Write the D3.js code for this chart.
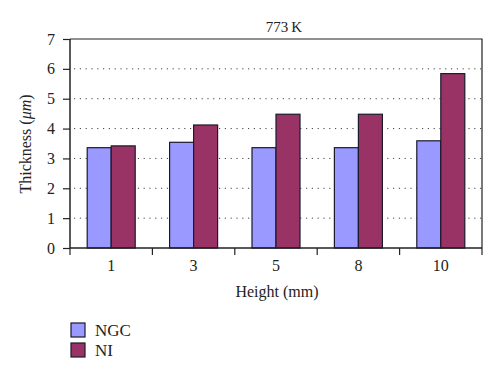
<!DOCTYPE html>
<html><head><meta charset="utf-8">
<script src="https://cdn.jsdelivr.net/npm/d3@7"></script>
<style>body{margin:0;background:#fff}svg{display:block}text{font-family:"Liberation Serif","Times New Roman",serif;fill:#222}</style>
</head><body><svg id="c" width="500" height="378"></svg>
<script>
const categories = ["1","3","5","8","10"];
const seriesNames = ["NGC","NI"];
const ngc = [3.36, 3.54, 3.36, 3.36, 3.59];
const ni = [3.42, 4.12, 4.48, 4.48, 5.84];
const yTicks = [0,1,2,3,4,5,6,7];
const colors = ["#9999ff","#993366"];
const title = "773\u2009K";

const svg = d3.select("#c");
const L=70,R=482,T=39,B=248;
const x = d3.scaleBand().domain(categories).range([L,R]);
const y = d3.scaleLinear().domain([0,7]).range([B,T]);
const barW = 24;
const sub = d3.scaleBand().domain(seriesNames).range([0,barW*2]);

// gridlines
svg.append("g").selectAll("line").data(yTicks.filter(d=>d>0&&d<7)).join("line")
  .attr("x1",L+4).attr("x2",R).attr("y1",d=>y(d)).attr("y2",d=>y(d))
  .attr("stroke","#444").attr("stroke-width",1).attr("stroke-dasharray","1.2,4.6");

// frame top/right
svg.append("path").attr("d",`M${L},${T}H${R}V${B}`).attr("fill","none").attr("stroke","#222").attr("stroke-width",1.2);

// bars
const data = categories.map((c,i)=>({c, vals:[ngc[i],ni[i]]}));
const g = svg.append("g").selectAll("g").data(data).join("g")
  .attr("transform",d=>`translate(${x(d.c)+x.bandwidth()/2-barW},0)`);
g.selectAll("rect").data(d=>d.vals.map((v,j)=>({v,s:seriesNames[j],j}))).join("rect")
  .attr("x",d=>sub(d.s)).attr("width",barW)
  .attr("y",d=>y(d.v)).attr("height",d=>B-y(d.v))
  .attr("fill",d=>colors[d.j]).attr("stroke","#1a1a2a").attr("stroke-width",1.2);

// y axis
const ya = svg.append("g").attr("transform",`translate(${L},0)`)
  .call(d3.axisLeft(y).tickValues(yTicks).tickFormat(d3.format("d")).tickSize(7).tickPadding(8));
ya.select(".domain").attr("d",`M0,${T}V${B}`).attr("stroke","#222").attr("stroke-width",1.5);
ya.selectAll(".tick line").attr("stroke","#222").attr("stroke-width",1.2);
ya.selectAll("text").attr("font-size",16).style("font-family",'"Liberation Serif","Times New Roman",serif').attr("fill","#222");

// x axis
const xa = svg.append("g").attr("transform",`translate(0,${B})`)
  .call(d3.axisBottom(x).tickSize(0).tickPadding(12));
xa.select(".domain").attr("stroke","#222").attr("stroke-width",1.5).attr("d",`M${L},0H${R}`);
xa.selectAll("text").attr("font-size",16).style("font-family",'"Liberation Serif","Times New Roman",serif').attr("fill","#222");
svg.append("g").selectAll("line").data(d3.range(categories.length+1)).join("line")
  .attr("x1",i=>L+i*x.step()).attr("x2",i=>L+i*x.step()).attr("y1",B).attr("y2",B+7)
  .attr("stroke","#222").attr("stroke-width",1.2);

// title
svg.append("text").attr("x",284).attr("y",32).attr("text-anchor","middle").attr("font-size",15).text(title);
// x label
svg.append("text").attr("x",277).attr("y",297).attr("text-anchor","middle").attr("font-size",16).text("Height (mm)");
// y label
const yl = svg.append("text").attr("transform","translate(31,144) rotate(-90)").attr("text-anchor","middle").attr("font-size",16);
yl.append("tspan").text("Thickness (");
yl.append("tspan").attr("font-style","italic").text("\u03bcm");
yl.append("tspan").text(")");

// legend
const lg = svg.append("g").selectAll("g").data(seriesNames).join("g")
  .attr("transform",(d,i)=>`translate(71,${323+i*20})`);
lg.append("rect").attr("width",14).attr("height",14).attr("fill",(d,i)=>colors[i]).attr("stroke","#1a1a2a").attr("stroke-width",1.2);
lg.append("text").attr("x",24).attr("y",13).attr("font-size",17).text(d=>d);
</script></body></html>
